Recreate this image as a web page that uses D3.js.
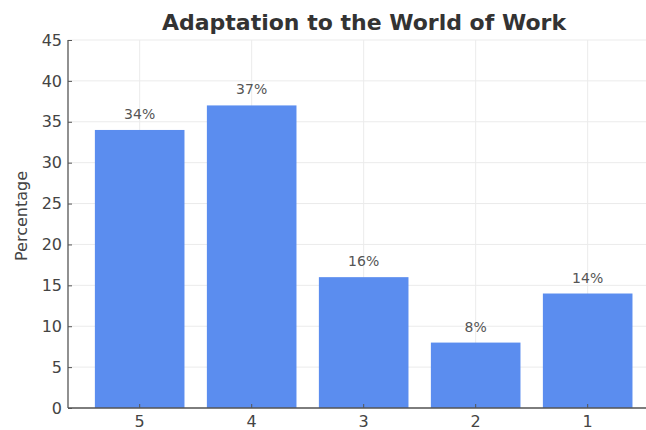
<!DOCTYPE html>
<html><head><meta charset="utf-8">
<script src="https://cdn.jsdelivr.net/npm/d3@7"></script>
<style>body{margin:0;background:#fff}svg{display:block}text{font-family:"DejaVu Sans",sans-serif}</style>
</head><body>
<svg id="c" width="646" height="430"></svg>
<script>
const categories = ["5","4","3","2","1"];
const values = [34,37,16,8,14];
const yTicks = [0,5,10,15,20,25,30,35,40,45];

const svg = d3.select("#c");
const pLeft = 68, pBottom = 408, pTop = 40;
const step = 112;
const pRight = pLeft + 5.28*step;
const x = d3.scaleBand().domain(categories)
  .range([pLeft + 0.14*step, pLeft + 0.14*step + 5*step])
  .paddingInner(0.2).paddingOuter(0.1);
const y = d3.scaleLinear().domain([0,45]).range([pBottom, pTop]);

// grid
svg.append("g").selectAll("line").data(yTicks).join("line")
  .attr("x1", pLeft).attr("x2", pRight).attr("y1", d=>y(d)).attr("y2", d=>y(d))
  .attr("stroke", "#ebebeb").attr("stroke-width", 1);
svg.append("g").selectAll("line").data(categories).join("line")
  .attr("x1", d=>x(d)+x.bandwidth()/2).attr("x2", d=>x(d)+x.bandwidth()/2)
  .attr("y1", pTop).attr("y2", pBottom)
  .attr("stroke", "#ebebeb").attr("stroke-width", 1);

// bars
svg.append("g").selectAll("rect").data(values).join("rect")
  .attr("x", (d,i)=>x(categories[i])).attr("width", x.bandwidth())
  .attr("y", d=>y(d)).attr("height", d=>y(0)-y(d))
  .attr("fill", "#5b8def");

// value labels
svg.append("g").selectAll("text").data(values).join("text")
  .attr("x", (d,i)=>x(categories[i])+x.bandwidth()/2)
  .attr("y", d=>y(d)-11)
  .attr("text-anchor","middle").attr("font-size", 14).attr("fill","#555")
  .text(d=>d+"%");

// axes
const yAxis = d3.axisLeft(y).tickValues(yTicks).tickSize(-4).tickPadding(6);
const gy = svg.append("g").attr("transform", `translate(${pLeft},0)`).call(yAxis);
const xAxis = d3.axisBottom(x).tickSize(-4).tickPadding(8);
const gx = svg.append("g").attr("transform", `translate(0,${pBottom})`).call(xAxis);
[gy, gx].forEach(g => {
  g.select(".domain").attr("stroke", "#555").attr("stroke-width", 1.3);
  g.selectAll(".tick line").attr("stroke", "#555");
  g.selectAll(".tick text").attr("fill", "#444").attr("font-size", 16).attr("font-family", "DejaVu Sans, sans-serif");
});
gx.select(".domain").attr("d", `M${pLeft},0H${pRight}`);
gy.select(".domain").attr("d", `M0,${pBottom}V${pTop}`);

// y label
svg.append("text").attr("transform", `translate(27,216) rotate(-90)`)
  .attr("text-anchor","middle").attr("font-size", 16).attr("fill","#444").text("Percentage");

// title
svg.append("text").attr("x", 364).attr("y", 30).attr("text-anchor","middle")
  .attr("font-size", 22).attr("font-weight","bold").attr("fill","#333").text("Adaptation to the World of Work");
</script>
</body></html>
